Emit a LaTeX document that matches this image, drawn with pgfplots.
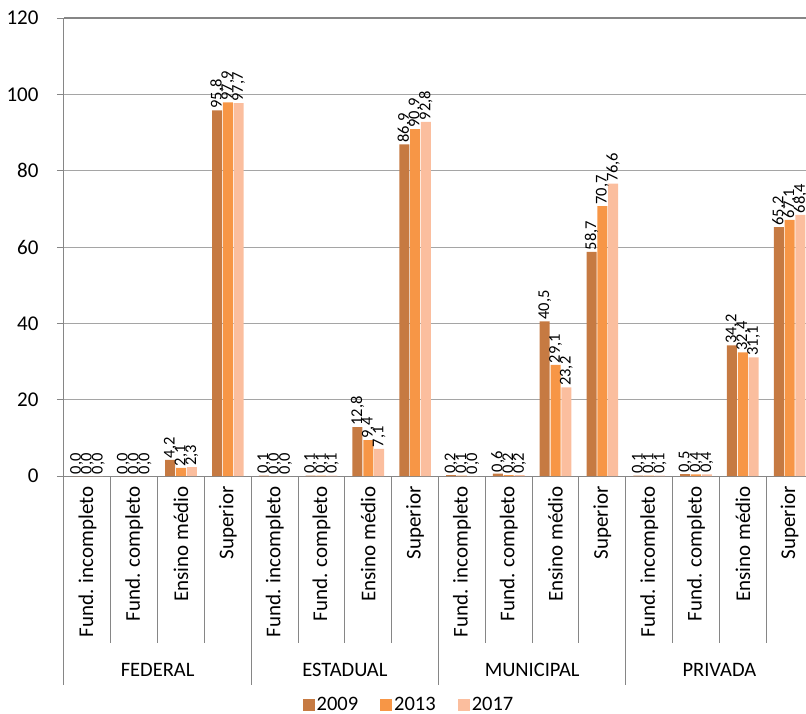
\documentclass[border=0pt]{standalone}
\usepackage{fontspec}
\setmainfont{Carlito}
\usepackage{pgfplots}
\usepackage{pgfplotstable}
\pgfplotsset{compat=1.18}

\definecolor{c2009}{RGB}{198,122,66}
\definecolor{c2013}{RGB}{247,150,70}
\definecolor{c2017}{RGB}{251,190,158}
\definecolor{axgray}{RGB}{134,134,134}
\definecolor{gridgray}{RGB}{165,165,165}

% 4 groups x 4 levels, one row per category
\pgfplotstableread{
x  a2009 a2013 a2017
0  0.0   0.0   0.0
1  0.0   0.0   0.0
2  4.2   2.1   2.3
3  95.8  97.9  97.7
4  0.1   0.0   0.0
5  0.1   0.1   0.1
6  12.8  9.4   7.1
7  86.9  90.9  92.8
8  0.2   0.1   0.0
9  0.6   0.2   0.2
10 40.5  29.1  23.2
11 58.7  70.7  76.6
12 0.1   0.1   0.1
13 0.5   0.4   0.4
14 34.2  32.4  31.1
15 65.2  67.1  68.4
}\datatable

\begin{document}
\begin{tikzpicture}[font=\fontsize{20.5}{24}\selectfont]
\begin{axis}[
    scale only axis,
    width=749pt, height=458pt,
    xmin=-0.5, xmax=15.5,
    ymin=0, ymax=120,
    ybar=0.8pt, bar width=10pt,
    ytick={0,20,...,120},
    xtick={0,...,15},
    xticklabels={Fund. incompleto,Fund. completo,Ensino médio,Superior,
                 Fund. incompleto,Fund. completo,Ensino médio,Superior,
                 Fund. incompleto,Fund. completo,Ensino médio,Superior,
                 Fund. incompleto,Fund. completo,Ensino médio,Superior},
    xticklabel style={rotate=90, anchor=east, font=\fontsize{21}{24}\selectfont},
    xtick style={draw=none},
    ymajorgrids,
    grid style={gridgray, line width=1pt},
    axis x line*=bottom, axis y line*=left,
    axis line style={axgray, line width=1pt},
    tick align=outside, major tick length=7pt,
    ytick style={axgray, line width=1pt},
    yticklabel style={font=\fontsize{21}{24}\selectfont, xshift=-15pt},
    /pgf/number format/assume math mode=true,
    clip=false,
    nodes near coords={\pgfmathprintnumber[fixed,fixed zerofill,precision=1,use comma]{\pgfplotspointmeta}},
    every node near coord/.append style={rotate=90, anchor=west,
        font=\fontsize{16.5}{18}\selectfont, inner sep=1.5pt, text=black},
    legend columns=3,
    legend style={draw=none, at={(rel axis cs:0.4606,-0.5)}, anchor=center,
        font=\fontsize{20.5}{24}\selectfont,
        /tikz/every even column/.append style={column sep=20pt}},
    legend image code/.code={\fill[#1] (0pt,-6pt) rectangle (12pt,6pt);},
]
\addplot[fill=c2009, draw=none] table[x=x, y=a2009] {\datatable};
\addplot[fill=c2013, draw=none] table[x=x, y=a2013] {\datatable};
\addplot[fill=c2017, draw=none] table[x=x, y=a2017] {\datatable};
\legend{2009,2013,2017}

\coordinate (O) at (rel axis cs:0,0);
\pgfplotsinvokeforeach{0.5,1.5,2.5,4.5,5.5,6.5,8.5,9.5,10.5,12.5,13.5,14.5}{
  \draw[axgray, line width=1pt] (axis cs:#1,0) -- ++(0pt,-167pt);
}
\pgfplotsinvokeforeach{-0.5,3.5,7.5,11.5,15.5}{
  \draw[axgray, line width=1pt] (axis cs:#1,0) -- ++(0pt,-209pt);
}
\node at (axis cs:1.5,0)  [yshift=-194pt] {FEDERAL};
\node at (axis cs:5.5,0)  [yshift=-194pt] {ESTADUAL};
\node at (axis cs:9.5,0)  [yshift=-194pt] {MUNICIPAL};
\node at (axis cs:13.5,0) [yshift=-194pt] {PRIVADA};
\end{axis}
% top grid line at 120
\draw[axgray, line width=1.2pt] (O) ++(0pt,458pt) -- ++(749pt,0pt);
\pgfresetboundingbox
\path (O) ++(-64pt,-237pt) rectangle ++(806pt,713pt);
\end{tikzpicture}
\end{document}
